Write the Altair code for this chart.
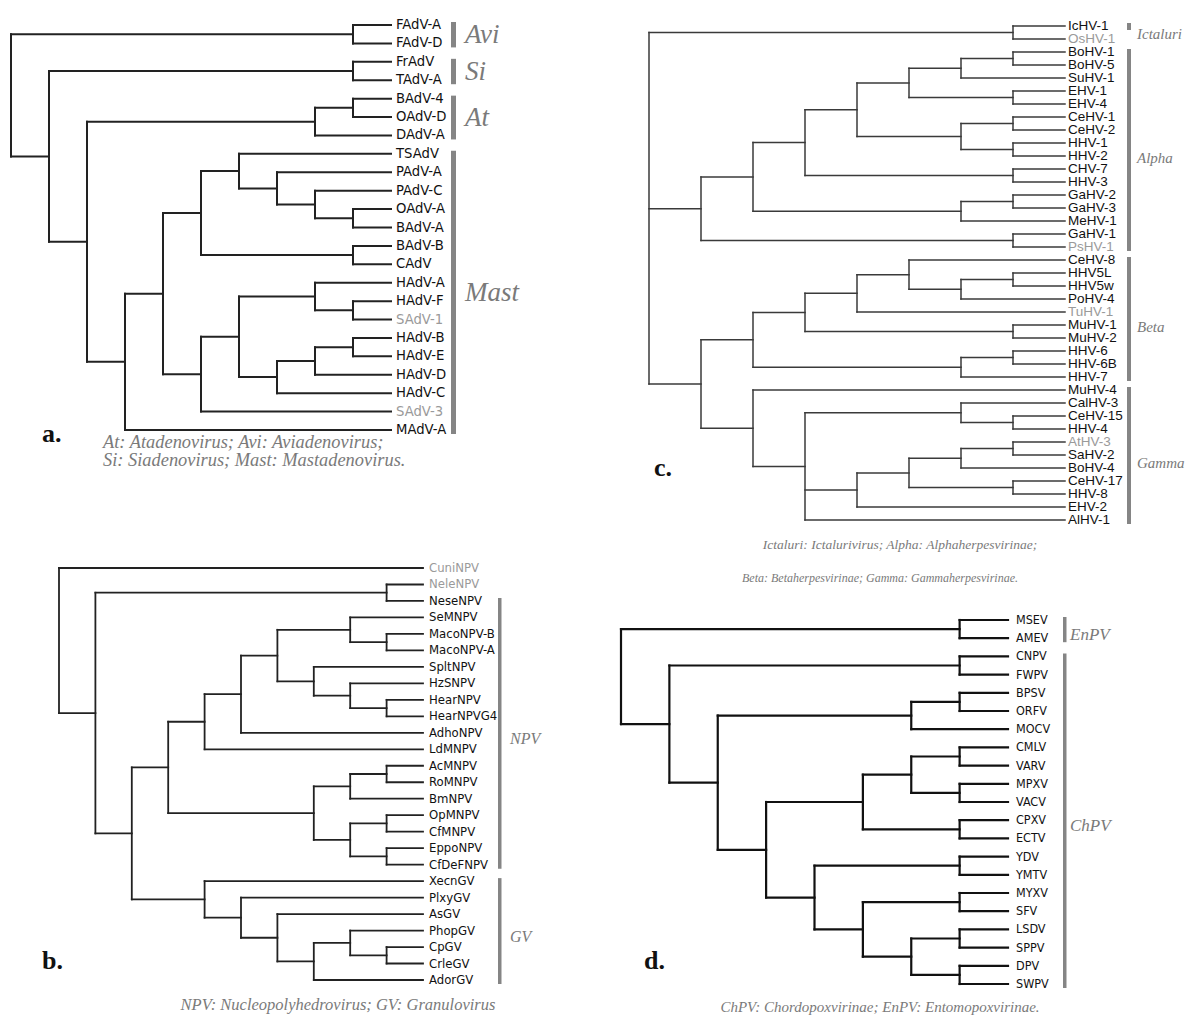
import altair as alt
import pandas as pd

# ---------------- data: tree topologies (Newick, cladogram) ----------------
TREE_A = ("((FAdV-A,FAdV-D),((FrAdV,TAdV-A),(((BAdV-4,OAdV-D),DAdV-A),"
          "((((TSAdV,(PAdV-A,(PAdV-C,(OAdV-A,BAdV-A)))),(BAdV-B,CAdV)),"
          "(((HAdV-A,(HAdV-F,SAdV-1)),(((HAdV-B,HAdV-E),HAdV-D),HAdV-C)),SAdV-3)),MAdV-A))))")

TREE_B = ("(CuniNPV,((NeleNPV,NeseNPV),((((((SeMNPV,(MacoNPV-B,MacoNPV-A)),"
          "(SpltNPV,(HzSNPV,(HearNPV,HearNPVG4)))),AdhoNPV),LdMNPV),"
          "(((AcMNPV,RoMNPV),BmNPV),((OpMNPV,CfMNPV),(EppoNPV,CfDeFNPV)))),"
          "(XecnGV,(PlxyGV,(AsGV,((PhopGV,(CpGV,CrleGV)),AdorGV)))))))")

ALPHA_C = ("((((((BoHV-1,BoHV-5),SuHV-1),(EHV-1,EHV-4)),((CeHV-1,CeHV-2),(HHV-1,HHV-2))),"
           "(CHV-7,HHV-3)),((GaHV-2,GaHV-3),MeHV-1)),(GaHV-1,PsHV-1))")
BETA_C = "((((CeHV-8,((HHV5L,HHV5w),PoHV-4)),TuHV-1),(MuHV-1,MuHV-2)),((HHV-6,HHV-6B),HHV-7))"
GAMMA_C = ("(MuHV-4,((CalHV-3,(CeHV-15,HHV-4)),((((AtHV-3,SaHV-2),BoHV-4),"
           "(CeHV-17,HHV-8)),EHV-2),AlHV-1)))")
TREE_C = "((IcHV-1,OsHV-1),(" + ALPHA_C + ",(" + BETA_C + "," + GAMMA_C + ")))"

TREE_D = ("((MSEV,AMEV),((CNPV,FWPV),(((BPSV,ORFV),MOCV),"
          "((((CMLV,VARV),(MPXV,VACV)),(CPXV,ECTV)),"
          "((YDV,YMTV),((MYXV,SFV),((LSDV,SPPV),(DPV,SWPV))))))))")

GRAY_LEAVES = ["SAdV-1", "SAdV-3", "CuniNPV", "NeleNPV",
               "OsHV-1", "PsHV-1", "TuHV-1", "AtHV-3"]

GROUPS_A = [("Avi", "FAdV-A", "FAdV-D"), ("Si", "FrAdV", "TAdV-A"),
            ("At", "BAdV-4", "DAdV-A"), ("Mast", "TSAdV", "MAdV-A")]
GROUPS_B = [("NPV", "NeseNPV", "CfDeFNPV"), ("GV", "XecnGV", "AdorGV")]
GROUPS_C = [("Ictaluri", "IcHV-1", "IcHV-1"), ("Alpha", "BoHV-1", "PsHV-1"),
            ("Beta", "CeHV-8", "HHV-7"), ("Gamma", "MuHV-4", "AlHV-1")]
GROUPS_D = [("EnPV", "MSEV", "AMEV"), ("ChPV", "CNPV", "SWPV")]

CAPTION_A = ["At: Atadenovirus; Avi: Aviadenovirus;", "Si: Siadenovirus; Mast: Mastadenovirus."]
CAPTION_B = ["NPV: Nucleopolyhedrovirus; GV: Granulovirus"]
CAPTION_C = ["Ictaluri: Ictalurivirus; Alpha: Alphaherpesvirinae;",
             "Beta: Betaherpesvirinae; Gamma: Gammaherpesvirinae."]
CAPTION_D = ["ChPV: Chordopoxvirinae; EnPV: Entomopoxvirinae."]

# ---------------- layout (pixel frames of the four panels) ----------------
OX, OY = 8, 8  # page margin
SANS_N = "DejaVu Sans Condensed, Liberation Sans Narrow, Arial Narrow, sans-serif"
SANS = "Liberation Sans, Arial, sans-serif"
SERIF = "Liberation Serif, Times New Roman, serif"
GRAY = "#7a7a7a"


def parse(s):
    pos = 0

    def node():
        nonlocal pos
        if s[pos] == "(":
            pos += 1
            kids = [node()]
            while s[pos] == ",":
                pos += 1
                kids.append(node())
            pos += 1
            return kids
        start = pos
        while pos < len(s) and s[pos] not in ",()":
            pos += 1
        return s[start:pos]

    return node()


def tree_layout(tree):
    leaves, segs = [], []

    def walk(n):
        if isinstance(n, str):
            leaves.append(n)
            return 0, len(leaves) - 1
        res = [walk(k) for k in n]
        h = max(r[0] for r in res) + 1
        ys = [r[1] for r in res]
        segs.append(dict(x=h, x2=h, y=ys[0], y2=ys[-1]))
        for ch, cy in res:
            segs.append(dict(x=h, x2=ch, y=cy, y2=cy))
        return h, (ys[0] + ys[-1]) / 2

    H, _ = walk(tree)
    return leaves, pd.DataFrame(segs), H


def panel(tree, groups, caption, letter, fr):
    leaves, segs, H = tree_layout(parse(tree))
    n = len(leaves)
    xs = alt.Scale(domain=[0, H], range=[fr["tip"] - OX, fr["root"] - OX], nice=False, zero=False)
    ys = alt.Scale(domain=[0, n - 1], range=[fr["top"] - OY, fr["bottom"] - OY], nice=False, zero=False)
    X = lambda f: alt.X(f, type="quantitative", scale=xs, axis=None)
    Y = lambda f: alt.Y(f, type="quantitative", scale=ys, axis=None)

    lines = alt.Chart(segs).mark_rule(
        color=fr["lc"], strokeWidth=fr["lw"], strokeCap="square"
    ).encode(x=X("x"), x2="x2", y=Y("y"), y2="y2")

    ldf = pd.DataFrame({"name": leaves, "idx": range(n), "lev": 0,
                        "col": ["#9a9a9a" if l in GRAY_LEAVES else "#111111" for l in leaves]})
    labels = alt.Chart(ldf).mark_text(
        align="left", baseline="middle", dx=fr["ldx"], font=fr["font"], fontSize=fr["fs"]
    ).encode(x=X("lev"), y=Y("idx"), text="name", color=alt.Color("col:N", scale=None))

    pos = {l: i for i, l in enumerate(leaves)}
    gdf = pd.DataFrame([{"g": g, "i0": pos[a], "i1": pos[b], "mid": (pos[a] + pos[b]) / 2, "lev": 0}
                        for g, a, b in groups])
    bars = alt.Chart(gdf).mark_rect(
        color="#858585", xOffset=fr["bx"], x2Offset=fr["bx"] + fr["bw"], yOffset=-3, y2Offset=4
    ).encode(x=X("lev"), x2="lev", y=Y("i0"), y2="i1")
    glabels = alt.Chart(gdf).mark_text(
        align="left", baseline="middle", dx=fr["gdx"], dy=fr["gdy"], font=SERIF, fontStyle="italic",
        fontSize=fr["gfs"], color=GRAY
    ).encode(x=X("lev"), y=Y("mid"), text="g")

    layers = [lines, labels, bars, glabels]
    for (txt, (cx, cy, al, cfs)) in zip(caption, fr["cap"]):
        layers.append(alt.Chart(pd.DataFrame({"t": [txt]})).mark_text(
            align=al, baseline="middle", font=SERIF, fontStyle="italic", fontSize=cfs, color=GRAY
        ).encode(x=alt.value(cx - OX), y=alt.value(cy - OY), text="t"))
    lx, ly = fr["letter"]
    layers.append(alt.Chart(pd.DataFrame({"t": [letter]})).mark_text(
        align="left", baseline="alphabetic", font=SERIF, fontWeight="bold", fontSize=26, color="#111"
    ).encode(x=alt.value(lx - OX), y=alt.value(ly - OY), text="t"))
    return alt.layer(*layers)


FRAME_A = dict(tip=391, root=11, top=25, bottom=430, lc="#222", lw=2.0, font=SANS_N, fs=14.7, ldx=5,
               bx=60, bw=5, gdx=74, gdy=1, gfs=27,
               cap=[(103, 442, "left", 18.4), (103, 460, "left", 18.4)], letter=(42, 442))
FRAME_B = dict(tip=423, root=59, top=568, bottom=980, lc="#222", lw=1.8, font=SANS_N, fs=13, ldx=6,
               bx=75, bw=3.5, gdx=87, gdy=6, gfs=16,
               cap=[(338, 1005, "center", 16.5)], letter=(42, 969))
FRAME_C = dict(tip=1065, root=649, top=26, bottom=520, lc="#3a3a3a", lw=1.5, font=SANS, fs=13.5, ldx=3,
               bx=62, bw=4, gdx=72, gdy=8, gfs=15,
               cap=[(900, 545, "center", 13.5), (880, 578, "center", 12)], letter=(654, 476))
FRAME_D = dict(tip=1008, root=621, top=620, bottom=984, lc="#111", lw=2.2, font=SANS_N, fs=12.5, ldx=8,
               bx=55, bw=3.5, gdx=62, gdy=6, gfs=17,
               cap=[(880, 1007, "center", 15)], letter=(644, 969))

chart = alt.layer(
    panel(TREE_A, GROUPS_A, CAPTION_A, "a.", FRAME_A),
    panel(TREE_B, GROUPS_B, CAPTION_B, "b.", FRAME_B),
    panel(TREE_C, GROUPS_C, CAPTION_C, "c.", FRAME_C),
    panel(TREE_D, GROUPS_D, CAPTION_D, "d.", FRAME_D),
).resolve_scale(x="independent", y="independent").properties(
    width=1180, height=1000, padding=0, background="white"
).configure_view(stroke=None)

chart.save("out.html", embed_options={"renderer": "svg", "actions": False})
